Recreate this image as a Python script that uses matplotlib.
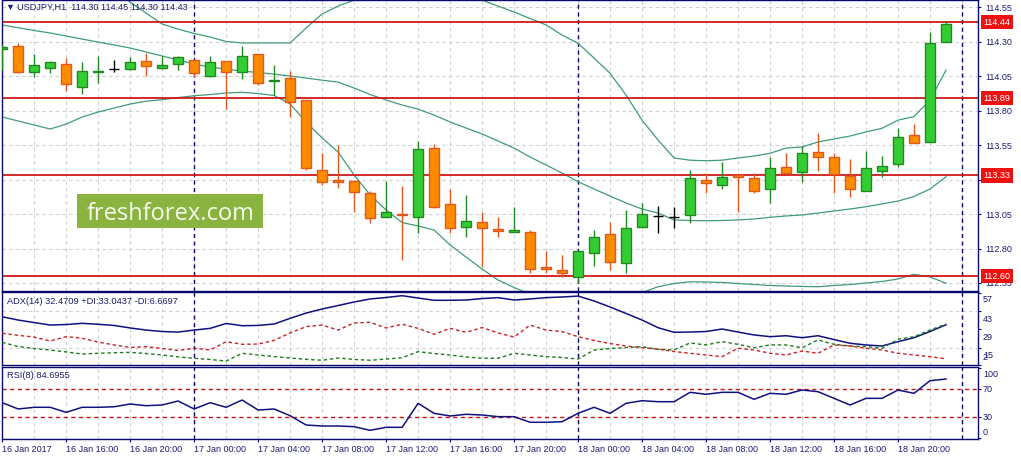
import numpy as np
import matplotlib
matplotlib.use("Agg")
import matplotlib.pyplot as plt
from matplotlib.patches import Rectangle

plt.rcParams['font.family'] = ['Liberation Sans', 'DejaVu Sans']

# USDJPY H1, 16 Jan 12:00 .. 18 Jan 23:00
opens = [114.243, 114.267, 114.077, 114.11, 114.137, 113.97, 114.077, 114.10, 114.10, 114.159,
         114.11, 114.135, 114.163, 114.05, 114.156, 114.08, 114.21, 114.015, 114.033, 113.876,
         113.369, 113.30, 113.289, 113.20, 113.026, 113.05, 113.026, 113.526, 113.12, 112.958,
         112.99, 112.94, 112.92, 112.917, 112.666, 112.644, 112.59, 112.77, 112.903, 112.693,
         112.958, 113.036, 113.026, 113.043, 113.30, 113.26, 113.33, 113.309, 113.229, 113.388,
         113.357, 113.497, 113.461, 113.328, 113.219, 113.364, 113.41, 113.62, 113.574, 114.30]
highs = [114.275, 114.287, 114.21, 114.16, 114.178, 114.154, 114.195, 114.166, 114.185, 114.214,
         114.195, 114.195, 114.166, 114.195, 114.16, 114.267, 114.21, 114.127, 114.09, 113.876,
         113.494, 113.55, 113.30, 113.219, 113.29, 113.253, 113.579, 113.557, 113.231, 113.188,
         113.067, 113.026, 113.099, 112.934, 112.782, 112.753, 112.782, 112.934, 112.994, 113.079,
         113.132, 113.108, 113.103, 113.369, 113.345, 113.43, 113.345, 113.345, 113.465, 113.49,
         113.543, 113.635, 113.49, 113.449, 113.507, 113.472, 113.675, 113.702, 114.371, 114.45]
lows = [114.095, 114.07, 114.045, 114.07, 113.94, 113.917, 114.00, 114.08, 114.093, 114.05,
        114.10, 114.093, 114.045, 114.04, 113.81, 114.03, 113.985, 113.912, 113.755, 113.37,
        113.26, 113.236, 113.067, 112.987, 113.026, 112.72, 112.91, 113.095, 112.91, 112.88,
        112.668, 112.886, 112.92, 112.62, 112.62, 112.59, 112.548, 112.675, 112.644, 112.625,
        112.958, 112.914, 112.946, 112.987, 113.20, 113.229, 113.067, 113.204, 113.127, 113.345,
        113.284, 113.364, 113.20, 113.175, 113.219, 113.316, 113.393, 113.567, 113.574, 114.30]
closes = [114.262, 114.079, 114.13, 114.15, 113.99, 114.086, 114.086, 114.10, 114.15, 114.125,
          114.128, 114.185, 114.07, 114.15, 114.077, 114.195, 114.00, 114.02, 113.864, 113.38,
          113.284, 113.28, 113.207, 113.019, 113.061, 113.04, 113.519, 113.103, 112.946, 112.999,
          112.946, 112.93, 112.934, 112.649, 112.649, 112.62, 112.782, 112.886, 112.70, 112.946,
          113.05, 113.036, 113.026, 113.309, 113.277, 113.316, 113.316, 113.219, 113.381, 113.345,
          113.49, 113.465, 113.338, 113.229, 113.381, 113.398, 113.606, 113.567, 114.287, 114.43]

bb_upper = [114.72, 114.72, 114.71, 114.71, 114.70, 114.69, 114.675, 114.655, 114.586, 114.506,
            114.427, 114.39, 114.358, 114.333, 114.30, 114.29, 114.29, 114.29, 114.29, 114.398,
            114.50, 114.557, 114.60, 114.63, 114.65, 114.666, 114.68, 114.68, 114.666, 114.637,
            114.60, 114.557, 114.514, 114.467, 114.42, 114.347, 114.287, 114.18, 114.07, 113.912,
            113.73, 113.586, 113.456, 113.44, 113.436, 113.44, 113.456, 113.47, 113.49, 113.528,
            113.536, 113.572, 113.594, 113.615, 113.645, 113.671, 113.73, 113.756, 113.876, 114.093]
bb_mid = [114.42, 114.40, 114.38, 114.362, 114.34, 114.318, 114.296, 114.275, 114.253, 114.224,
          114.195, 114.166, 114.137, 114.115, 114.10, 114.086, 114.075, 114.064, 114.05, 114.035,
          114.02, 114.006, 113.963, 113.916, 113.876, 113.84, 113.81, 113.767, 113.717, 113.673,
          113.63, 113.579, 113.528, 113.463, 113.405, 113.347, 113.284, 113.231, 113.18, 113.13,
          113.086, 113.057, 113.007, 113.003, 113.001, 113.003, 113.007, 113.014, 113.026, 113.036,
          113.043, 113.057, 113.072, 113.086, 113.103, 113.123, 113.144, 113.177, 113.231, 113.32]
bb_lower = [113.753, 113.724, 113.695, 113.666, 113.702, 113.753, 113.789, 113.818, 113.847, 113.868,
            113.878, 113.894, 113.907, 113.916, 113.927, 113.932, 113.923, 113.909, 113.847, 113.717,
            113.601, 113.499, 113.333, 113.188, 113.079, 112.988, 112.963, 112.934, 112.825, 112.738,
            112.651, 112.572, 112.517, 112.47, 112.45, 112.44, 112.43, 112.43, 112.44, 112.46,
            112.48, 112.523, 112.546, 112.559, 112.557, 112.554, 112.546, 112.539, 112.532, 112.528,
            112.525, 112.523, 112.532, 112.539, 112.55, 112.561, 112.579, 112.613, 112.594, 112.548]

adx = [38.6, 36.1, 34.2, 32.3, 32.7, 33.6, 32.9, 32.0, 30.1, 28.5,
       27.4, 27.0, 28.5, 29.8, 33.5, 31.8, 32.0, 33.1, 37.4, 41.4,
       44.5, 47.1, 49.8, 52.1, 53.2, 54.6, 52.8, 51.1, 51.1, 51.3,
       52.4, 53.1, 51.3, 52.1, 53.1, 53.6, 54.3, 50.6, 46.0, 41.1,
       36.1, 30.3, 26.8, 27.0, 27.4, 29.3, 27.0, 24.8, 23.5, 24.2,
       22.7, 24.2, 21.3, 18.5, 17.2, 16.4, 19.7, 22.7, 27.4, 32.5]
plus_di = [19.2, 16.0, 14.5, 13.4, 11.9, 10.3, 10.9, 11.3, 11.6, 10.7,
           9.6, 8.1, 7.1, 6.2, 5.0, 10.9, 9.6, 8.4, 7.3, 6.3,
           5.6, 7.3, 6.2, 5.6, 6.5, 7.5, 12.1, 10.7, 9.6, 8.1,
           7.1, 7.1, 10.9, 9.6, 8.3, 7.7, 6.5, 13.4, 14.5, 15.3,
           15.9, 13.8, 13.4, 18.7, 17.2, 19.7, 17.7, 15.1, 17.2, 17.2,
           15.1, 21.0, 17.7, 16.4, 15.9, 14.7, 21.5, 23.5, 28.5, 33.0]
minus_di = [26.0, 24.5, 23.2, 20.2, 23.5, 22.3, 19.4, 17.2, 15.3, 15.9,
            14.5, 13.0, 14.7, 13.4, 19.7, 17.7, 17.9, 20.7, 26.3, 31.1,
            32.3, 28.5, 33.9, 34.4, 30.1, 32.9, 29.8, 25.3, 29.8, 26.8,
            30.4, 26.3, 23.2, 32.3, 28.5, 27.3, 23.5, 20.6, 18.3, 16.4,
            15.1, 14.1, 12.2, 10.9, 9.6, 8.3, 14.7, 13.4, 10.9, 9.6,
            12.6, 10.9, 17.2, 16.4, 14.7, 13.4, 10.9, 9.6, 8.3, 6.7]
rsi = [50.9, 41.9, 44.3, 44.3, 37.1, 44.3, 44.3, 45.1, 49.0, 46.6,
       47.6, 53.3, 41.9, 50.9, 44.3, 54.7, 40.4, 41.9, 32.3, 19.0,
       17.6, 17.6, 16.6, 11.4, 15.7, 15.7, 50.0, 35.7, 31.9, 34.3,
       33.3, 30.9, 30.9, 22.9, 22.9, 23.7, 35.7, 44.3, 35.7, 50.0,
       53.7, 52.3, 52.3, 65.7, 62.9, 65.7, 65.7, 55.7, 64.3, 62.9,
       69.0, 66.6, 57.1, 47.6, 57.1, 57.1, 69.0, 64.3, 82.3, 84.7]

levels = [114.44, 113.89, 113.33, 112.60]
price_ticks = [112.55, 112.80, 113.05, 113.30, 113.55, 113.80, 114.05, 114.30, 114.55]
time_labels = ['16 Jan 2017', '16 Jan 16:00', '16 Jan 20:00', '17 Jan 00:00', '17 Jan 04:00',
               '17 Jan 08:00', '17 Jan 12:00', '17 Jan 16:00', '17 Jan 20:00', '18 Jan 00:00',
               '18 Jan 04:00', '18 Jan 08:00', '18 Jan 12:00', '18 Jan 16:00', '18 Jan 20:00']
label_bars = list(range(0, 60, 4))
day_breaks = [12, 36, 60]

NAVY = '#0a0a6e'
TXT = '#1c1c70'
GRID = '#cfcfcf'
BB = '#3f9c78'
RED = '#d01818'

W, H = 1021, 459
fig = plt.figure(figsize=(W / 100, H / 100), dpi=100)


def panel(y0, y1):
    return fig.add_axes([1.7 / W, 1 - y1 / H, (978 - 1.7) / W, (y1 - y0) / H])


ax = panel(0, 291)
ax_adx = panel(292, 365)
ax_rsi = panel(367, 439)

for a in (ax, ax_adx, ax_rsi):
    a.set_xlim(-0.03, 61.0)
    for s in a.spines.values():
        s.set_color(NAVY)
        s.set_linewidth(1)
    a.yaxis.tick_right()
    a.tick_params(axis='y', colors=NAVY, labelcolor=TXT, labelsize=6.5, length=2.5, width=0.8, pad=2.5)
    a.tick_params(axis='x', bottom=False, labelbottom=False)
    for k in range(0, 62, 2):
        a.axvline(k, color=GRID, lw=0.8, ls=(0, (3, 3)), zorder=0)
    for d in day_breaks:
        a.axvline(d, color=NAVY, lw=1, ls=(0, (3, 2.5)), zorder=1)

# --- price panel ---
x = np.arange(len(opens))
o = np.array(opens)
c = np.array(closes)
face, edge = [], []
for oo, cc in zip(o, c):
    if cc > oo:
        face.append('#33cc33'); edge.append('#208a20')
    elif cc < oo:
        face.append('#ff8c00'); edge.append('#e2581c')
    else:
        face.append('black'); edge.append('black')

ax.plot(x, bb_upper, color=BB, lw=0.9, zorder=2)
ax.plot(x, bb_mid, color=BB, lw=0.9, zorder=2)
ax.plot(x, bb_lower, color=BB, lw=0.9, zorder=2)
ax.vlines(x, lows, highs, colors=edge, lw=1, zorder=3)
ax.bar(x, np.abs(c - o), bottom=np.minimum(o, c), width=0.6,
       color=face, edgecolor=edge, linewidth=1, zorder=4)

ax.set_ylim(112.492, 114.601)
ax.set_yticks(price_ticks)
ax.set_yticklabels([f'{p:.2f}' for p in price_ticks])
for p in price_ticks:
    ax.axhline(p, color=GRID, lw=0.8, ls=(0, (3, 3)), zorder=0)

for lv in levels:
    ax.axhline(lv, color=RED, lw=1.3, zorder=2.5)
    ax.annotate(f'{lv:.2f}', xy=(1, lv), xycoords=('axes fraction', 'data'),
                xytext=(4, 0), textcoords='offset points', ha='left', va='center',
                fontsize=6.5, color='white', annotation_clip=False, zorder=10,
                bbox=dict(boxstyle='square,pad=0.3', fc='#ee1111', ec='none'))

fig.text(5 / W, 1 - 7 / H, '▼', fontsize=6.5, color=TXT, va='center')
fig.text(17 / W, 1 - 7 / H, 'USDJPY,H1  114.30 114.45 114.30 114.43',
         fontsize=6.6, color=TXT, va='center')

# watermark
fig.add_artist(Rectangle((77 / W, 1 - 228 / H), 186 / W, 34 / H, transform=fig.transFigure,
                         facecolor='#8ab43f', edgecolor='none', zorder=5))
fig.text(170.5 / W, 1 - 220 / H, 'freshforex.com', fontsize=17, family='Open Sans',
         color='#f6f9ee', ha='center', va='baseline', zorder=6)

# --- ADX panel ---
ax_adx.plot(x, adx, color='#101080', lw=1.1, zorder=3)
ax_adx.plot(x, plus_di, color='#1e7a1e', lw=1, ls=(0, (2.5, 2)), zorder=3)
ax_adx.plot(x, minus_di, color='#cc2222', lw=1, ls=(0, (2.5, 2)), zorder=3)
ax_adx.set_ylim(2.0, 57.38)
ax_adx.set_yticks([57, 43, 29, 15, 2])
ax_adx.set_yticklabels([])
for lv in (43, 15):
    ax_adx.axhline(lv, color=GRID, lw=0.8, ls=(0, (3, 3)), zorder=0)
for v, off in [(57, 7.3), (43, 8.3), (29, 8.4), (15, 7.6), (2, -7)]:
    ax_adx.annotate(str(v), xy=(1, v), xycoords=('axes fraction', 'data'),
                    xytext=(3.5, -off * 0.72), textcoords='offset points',
                    ha='left', va='center', fontsize=6.5, color=TXT, annotation_clip=False)
fig.text(7 / W, 1 - 301 / H, 'ADX(14) 32.4709 +DI:33.0437 -DI:6.6697',
         fontsize=6.7, color=TXT, va='center')

# --- RSI panel ---
ax_rsi.plot(x, rsi, color='#101080', lw=1.1, zorder=3)
for lv in (70, 30):
    ax_rsi.axhline(lv, color='#c81818', lw=1, ls=(0, (3, 2.5)), zorder=2)
ax_rsi.set_ylim(-1, 101.9)
ax_rsi.set_yticks([100, 70, 30, 0])
ax_rsi.set_yticklabels([])
for v, off in [(100, 6), (70, 0), (30, 0), (0, -6.3)]:
    ax_rsi.annotate(str(v), xy=(1, v), xycoords=('axes fraction', 'data'),
                    xytext=(3.5, -off * 0.72), textcoords='offset points',
                    ha='left', va='center', fontsize=6.5, color=TXT, annotation_clip=False)
fig.text(7 / W, 1 - 376 / H, 'RSI(8) 84.6955', fontsize=6.7, color=TXT, va='center')

ax_rsi.set_xticks(label_bars)
ax_rsi.set_xticklabels(time_labels, ha='left')
ax_rsi.tick_params(axis='x', bottom=True, labelbottom=True, colors=NAVY, labelcolor=TXT,
                   labelsize=6.5, length=2, width=0.8, pad=2)

fig.savefig('out.png', dpi=100, facecolor='white')
